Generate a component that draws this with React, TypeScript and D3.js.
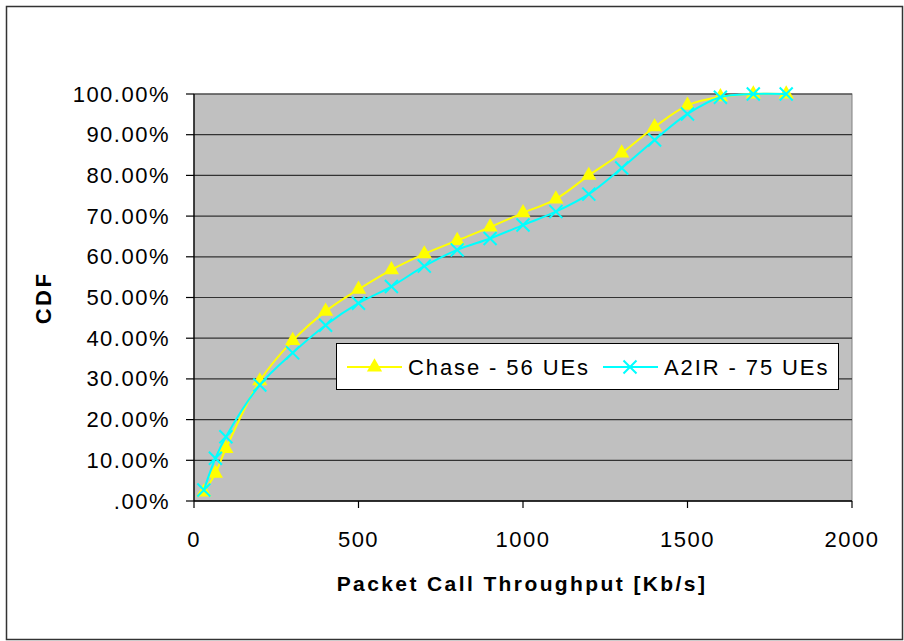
import React from "react";
import * as d3 from "d3";

const throughput = [30, 65, 97, 200, 300, 400, 500, 600, 700, 800, 900, 1000, 1100, 1200, 1300, 1400, 1500, 1600, 1700, 1800];
const chaseCdf = [0.022, 0.068, 0.129, 0.295, 0.394, 0.466, 0.52, 0.568, 0.607, 0.64, 0.673, 0.708, 0.742, 0.80, 0.855, 0.919, 0.972, 0.993, 1.0, 1.0];
const a2irCdf = [0.027, 0.105, 0.158, 0.285, 0.364, 0.432, 0.486, 0.527, 0.577, 0.617, 0.645, 0.678, 0.711, 0.754, 0.818, 0.887, 0.951, 0.992, 1.0, 1.0];
const xTicks = [0, 500, 1000, 1500, 2000];
const yTicks = [0, 0.1, 0.2, 0.3, 0.4, 0.5, 0.6, 0.7, 0.8, 0.9, 1.0];
const seriesNames = ["Chase - 56 UEs", "A2IR - 75 UEs"];

const W = 904;
const H = 641;
const left = 194;
const right = 852;
const top = 94;
const bottom = 501;
const font = "'Liberation Sans', Arial, sans-serif";

function fmtPct(v: number) {
  const s = (v * 100).toFixed(2) + "%";
  return s.startsWith("0.") ? s.slice(1) : s;
}

export default function App() {
  const x = d3.scaleLinear().domain([0, 2000]).range([left, right]);
  const y = d3.scaleLinear().domain([0, 1]).range([bottom, top]);
  const line = d3
    .line<[number, number]>()
    .x((d) => x(d[0]))
    .y((d) => y(d[1]))
    .curve(d3.curveCatmullRom.alpha(0.5));
  const chasePts: [number, number][] = throughput.map((t, i) => [t, chaseCdf[i]]);
  const a2irPts: [number, number][] = throughput.map((t, i) => [t, a2irCdf[i]]);
  const tri = d3.symbol().type(d3.symbolTriangle).size(100)();

  const Cross = ({ cx, cy }: { cx: number; cy: number }) => (
    <path
      d={`M${cx - 6.5},${cy - 6.5}L${cx + 6.5},${cy + 6.5}M${cx - 6.5},${cy + 6.5}L${cx + 6.5},${cy - 6.5}`}
      stroke="#00FFFF"
      strokeWidth={2}
      fill="none"
    />
  );

  return (
    <svg
      width={W}
      height={H}
      style={{ position: "absolute", left: 0, top: 0, display: "block" }}
      fontFamily={font}
    >
      <rect x={0} y={0} width={W} height={H} fill="#fff" />
      <rect x={6.5} y={6.5} width={896} height={633} fill="#fff" stroke="#333" strokeWidth={1.5} />
      {/* plot area */}
      <rect x={left} y={top} width={right - left} height={bottom - top} fill="#C0C0C0" stroke="#808080" strokeWidth={1} />
      {yTicks.slice(1).map((t) => (
        <line key={t} x1={left} x2={right} y1={y(t)} y2={y(t)} stroke="#333" strokeWidth={1.2} />
      ))}
      {/* axes */}
      <line x1={left} x2={left} y1={top} y2={bottom} stroke="#000" strokeWidth={1.3} />
      <line x1={left} x2={right} y1={bottom} y2={bottom} stroke="#000" strokeWidth={1.3} />
      {yTicks.map((t) => (
        <g key={"y" + t}>
          <line x1={left - 8} x2={left} y1={y(t)} y2={y(t)} stroke="#000" strokeWidth={1.2} />
          <text x={170} y={y(t) + 7.5} textAnchor="end" fontSize={22} letterSpacing={1.5} fill="#000">
            {fmtPct(t)}
          </text>
        </g>
      ))}
      {xTicks.map((t) => (
        <g key={"x" + t}>
          <line x1={x(t)} x2={x(t)} y1={bottom} y2={bottom + 7} stroke="#000" strokeWidth={1.2} />
          <text x={x(t)} y={547} textAnchor="middle" fontSize={22} letterSpacing={1.5} fill="#000">
            {t}
          </text>
        </g>
      ))}
      <text x={522} y={591} textAnchor="middle" fontSize={21} fontWeight="bold" letterSpacing={2.4} fill="#000">
        Packet Call Throughput [Kb/s]
      </text>
      <text
        transform={`translate(51,298) rotate(-90)`}
        textAnchor="middle"
        fontSize={22}
        fontWeight="bold"
        letterSpacing={2.5}
        fill="#000"
      >
        CDF
      </text>
      {/* series */}
      <path d={line(chasePts) || ""} fill="none" stroke="#FFFF00" strokeWidth={2} />
      {chasePts.map((p, i) => (
        <path key={"c" + i} d={tri || ""} transform={`translate(${x(p[0])},${y(p[1])})`} fill="#FFFF00" />
      ))}
      <path d={line(a2irPts) || ""} fill="none" stroke="#00FFFF" strokeWidth={2} />
      {a2irPts.map((p, i) => (
        <Cross key={"a" + i} cx={x(p[0])} cy={y(p[1])} />
      ))}
      {/* legend */}
      <rect x={336.5} y={343.5} width={502} height={46} fill="#fff" stroke="#000" strokeWidth={1} />
      <line x1={347} x2={402} y1={367} y2={367} stroke="#FFFF00" strokeWidth={2} />
      <path d={tri || ""} transform={`translate(374.5,367)`} fill="#FFFF00" />
      <text x={408} y={375} fontSize={22} letterSpacing={1.9} fill="#000">
        {seriesNames[0]}
      </text>
      <line x1={603} x2={658} y1={367} y2={367} stroke="#00FFFF" strokeWidth={2} />
      <Cross cx={630} cy={367} />
      <text x={664} y={375} fontSize={22} letterSpacing={1.9} fill="#000">
        {seriesNames[1]}
      </text>
    </svg>
  );
}
